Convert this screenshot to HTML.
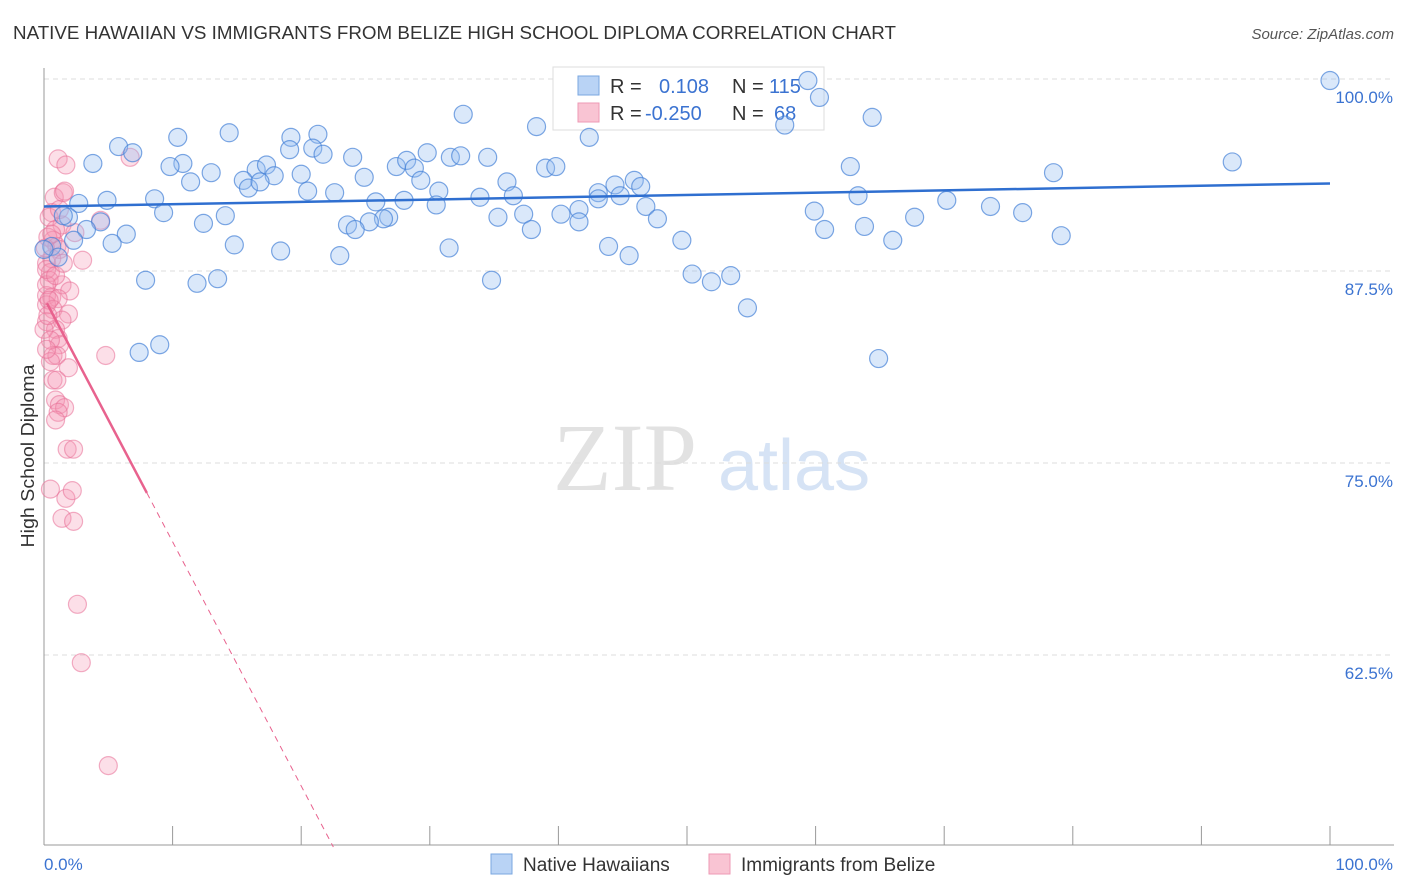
<!DOCTYPE html>
<html><head><meta charset="utf-8"><style>
body{margin:0;background:#fff;font-family:"Liberation Sans",sans-serif}
svg{display:block}
</style></head><body>
<svg id="chart" width="1406" height="892" viewBox="0 0 1406 892" xmlns="http://www.w3.org/2000/svg">
<text x="13" y="39" font-size="18" fill="#333" textLength="883" lengthAdjust="spacingAndGlyphs" font-family="Liberation Sans, sans-serif">NATIVE HAWAIIAN VS IMMIGRANTS FROM BELIZE HIGH SCHOOL DIPLOMA CORRELATION CHART</text>
<text x="1394" y="39" font-size="15" fill="#555" text-anchor="end" font-style="italic">Source: ZipAtlas.com</text>
<g>
<text x="553" y="490" font-size="96" fill="#e2e2e2" font-family="Liberation Serif, serif">ZIP</text>
<text x="718" y="490" font-size="72" fill="#d6e3f5">atlas</text>
</g>
<g id="grid"></g>
<g id="axes"></g>
<g>
<rect x="553" y="67" width="271" height="63" fill="#fff" stroke="#ddd"/>
<rect x="578" y="76" width="21" height="19" fill="#b9d3f5" stroke="#7aa7e0"/>
<rect x="578" y="103" width="21" height="19" fill="#f9c4d3" stroke="#ee9ab4"/>
<text x="610" y="93" font-size="20" fill="#333">R =</text>
<text x="659" y="93" font-size="20" fill="#3b73d1">0.108</text>
<text x="732" y="93" font-size="20" fill="#333">N =</text>
<text x="769" y="93" font-size="20" fill="#3b73d1">115</text>
<text x="610" y="120" font-size="20" fill="#333">R =</text>
<text x="645" y="120" font-size="20" fill="#3b73d1">-0.250</text>
<text x="732" y="120" font-size="20" fill="#333">N =</text>
<text x="774" y="120" font-size="20" fill="#3b73d1">68</text>
</g>
<g id="pts"></g>
<g id="trend"></g>
<text transform="translate(34,456) rotate(-90)" font-size="18" fill="#333" text-anchor="middle" textLength="183" lengthAdjust="spacingAndGlyphs">High School Diploma</text>
<g>
<rect x="491" y="854" width="21" height="20" fill="#b9d3f5" stroke="#7aa7e0"/>
<text x="523" y="871" font-size="19" fill="#333">Native Hawaiians</text>
<rect x="709" y="854" width="21" height="20" fill="#f9c4d3" stroke="#ee9ab4"/>
<text x="741" y="871" font-size="19" fill="#333">Immigrants from Belize</text>
</g>
</svg>
<script>
const blueX=[100,59.4,60.3,32.6,38.3,64.4,57.6,42.4,14.4,10.4,19.2,21.3,5.8,6.9,3.8,10.8,9.8,19.1,20.9,21.7,24.0,27.4,28.2,29.8,31.6,32.4,34.5,39.0,39.8,28.8,13.0,16.5,17.3,15.5,17.9,20.0,11.4,15.9,16.8,29.3,24.9,22.6,20.5,30.7,36.0,36.5,43.1,44.4,43.1,44.8,45.9,46.4,62.7,92.4,78.5,63.3,8.6,4.9,2.7,1.9,1.5,9.3,14.1,25.8,28.0,30.5,33.9,46.8,70.2,73.6,76.1,67.7,59.9,47.7,41.6,40.2,37.3,35.3,26.8,26.4,25.3,23.6,24.2,41.6,37.9,12.4,4.4,3.3,6.4,2.3,0.6,1.1,5.3,14.8,18.4,23.0,31.5,43.9,45.5,49.6,60.7,63.8,66.0,79.1,50.4,51.9,53.4,54.7,34.8,13.5,11.9,7.9,9.0,7.4,64.9,0.0];
const blueY=[99.9,99.9,98.8,97.7,96.9,97.5,97.0,96.2,96.5,96.2,96.2,96.4,95.6,95.2,94.5,94.5,94.3,95.4,95.5,95.1,94.9,94.3,94.7,95.2,94.9,95.0,94.9,94.2,94.3,94.2,93.9,94.1,94.4,93.4,93.7,93.8,93.3,92.9,93.3,93.4,93.6,92.6,92.7,92.7,93.3,92.4,92.6,93.1,92.2,92.4,93.4,93.0,94.3,94.6,93.9,92.4,92.2,92.1,91.9,91.0,91.1,91.3,91.1,92.0,92.1,91.8,92.3,91.7,92.1,91.7,91.3,91.0,91.4,90.9,91.5,91.2,91.2,91.0,91.0,90.9,90.7,90.5,90.2,90.7,90.2,90.6,90.7,90.2,89.9,89.5,89.1,88.4,89.3,89.2,88.8,88.5,89.0,89.1,88.5,89.5,90.2,90.4,89.5,89.8,87.3,86.8,87.2,85.1,86.9,87.0,86.7,86.9,82.7,82.2,81.8,88.9];
const pinkX=[1.1,1.7,6.7,0.8,1.5,1.6,0.6,0.4,1.4,4.4,0.9,0.7,0.3,1.0,1.2,0.6,3.0,0.2,0.5,0.4,1.4,2.0,0.2,0.6,1.1,0.2,0.7,1.9,1.4,0.2,0.9,1.1,1.2,0.7,4.8,1.0,0.5,1.9,0.7,0.9,1.2,1.6,1.1,0.9,1.8,2.3,0.5,1.7,2.2,1.4,2.3,2.6,2.9,5.0,0.1,0.2,0.4,0.0,0.5,0.2,0.9,0.3,0.6,1.2,0.2,1.0,1.5,2.4];
const pinkY=[94.8,94.4,94.9,92.3,92.6,92.7,91.3,91.0,90.5,90.8,90.2,89.5,89.7,89.1,88.9,88.3,88.2,88.0,87.4,86.9,86.6,86.2,85.9,85.8,85.7,85.3,85.0,84.7,84.3,84.2,83.7,83.1,82.7,82.0,82.0,82.0,81.6,81.2,80.4,79.1,78.8,78.6,78.3,77.8,75.9,75.9,73.3,72.7,73.2,71.4,71.2,65.8,62.0,55.3,89.0,86.6,85.6,83.7,83.0,87.6,87.2,84.6,89.9,91.5,82.4,80.4,88.0,90.0];
const blueTrend=[91.7,93.2];
const pinkTrendStart=[0.23,85.4], pinkTrendSolidEnd=[8,73.05], pinkTrendDashEnd=[22.5,50];
const yTicks=[100,87.5,75,62.5];
const yTickLabels=["100.0%","87.5%","75.0%","62.5%"];

const NS="http://www.w3.org/2000/svg";
const X=v=>44+v*12.86, Y=v=>79+(100-v)*15.36;
function mk(tag,attrs,parent){const e=document.createElementNS(NS,tag);for(const k in attrs)e.setAttribute(k,attrs[k]);parent.appendChild(e);return e;}
const grid=document.getElementById('grid'),axes=document.getElementById('axes'),pts=document.getElementById('pts'),trend=document.getElementById('trend');
yTicks.forEach((t,i)=>{
  const l=mk('line',{x1:44,x2:1394,y1:Y(t),y2:Y(t),stroke:'#dcdcdc','stroke-dasharray':'5,4'},grid);
  
  
  const tx=mk('text',{x:1393,y:Y(t)+24,'font-size':17,fill:'#3b73d1','text-anchor':'end'},grid);
  tx.textContent=yTickLabels[i];
  
  
});
mk('line',{x1:44,x2:44,y1:68,y2:845,stroke:'#999'},axes);
mk('line',{x1:44,x2:1394,y1:845,y2:845,stroke:'#999'},axes);
for(let i=0;i<=10;i++){mk('line',{x1:X(i*10),x2:X(i*10),y1:826,y2:845,stroke:'#999'},axes);}
const x0=mk('text',{x:44,y:870,'font-size':17,fill:'#3b73d1'},axes);x0.textContent='0.0%';


const x1=mk('text',{x:1393,y:870,'font-size':17,fill:'#3b73d1','text-anchor':'end'},axes);x1.textContent='100.0%';


pinkX.forEach((v,i)=>{
  const c=mk('circle',{cx:X(v),cy:Y(pinkY[i]),r:9,fill:'rgba(244,150,180,0.3)',stroke:'rgba(232,110,150,0.55)','stroke-width':1.2},pts);
  
  
});
blueX.forEach((v,i)=>{
  const c=mk('circle',{cx:X(v),cy:Y(blueY[i]),r:9,fill:'rgba(150,190,240,0.35)',stroke:'rgba(70,130,215,0.7)','stroke-width':1.2},pts);
  
  
});
const bt=mk('line',{x1:X(0),y1:Y(blueTrend[0]),x2:X(100),y2:Y(blueTrend[1]),stroke:'#2f6fd0','stroke-width':2.5},trend);


const pt=mk('line',{x1:X(pinkTrendStart[0]),y1:Y(pinkTrendStart[1]),x2:X(pinkTrendSolidEnd[0]),y2:Y(pinkTrendSolidEnd[1]),stroke:'#e8628e','stroke-width':2.5},trend);


const pd=mk('line',{x1:X(pinkTrendSolidEnd[0]),y1:Y(pinkTrendSolidEnd[1]),x2:X(pinkTrendDashEnd[0]),y2:Y(pinkTrendDashEnd[1]),stroke:'#e8628e','stroke-width':1,'stroke-dasharray':'6,5'},trend);


</script>
</body></html>
